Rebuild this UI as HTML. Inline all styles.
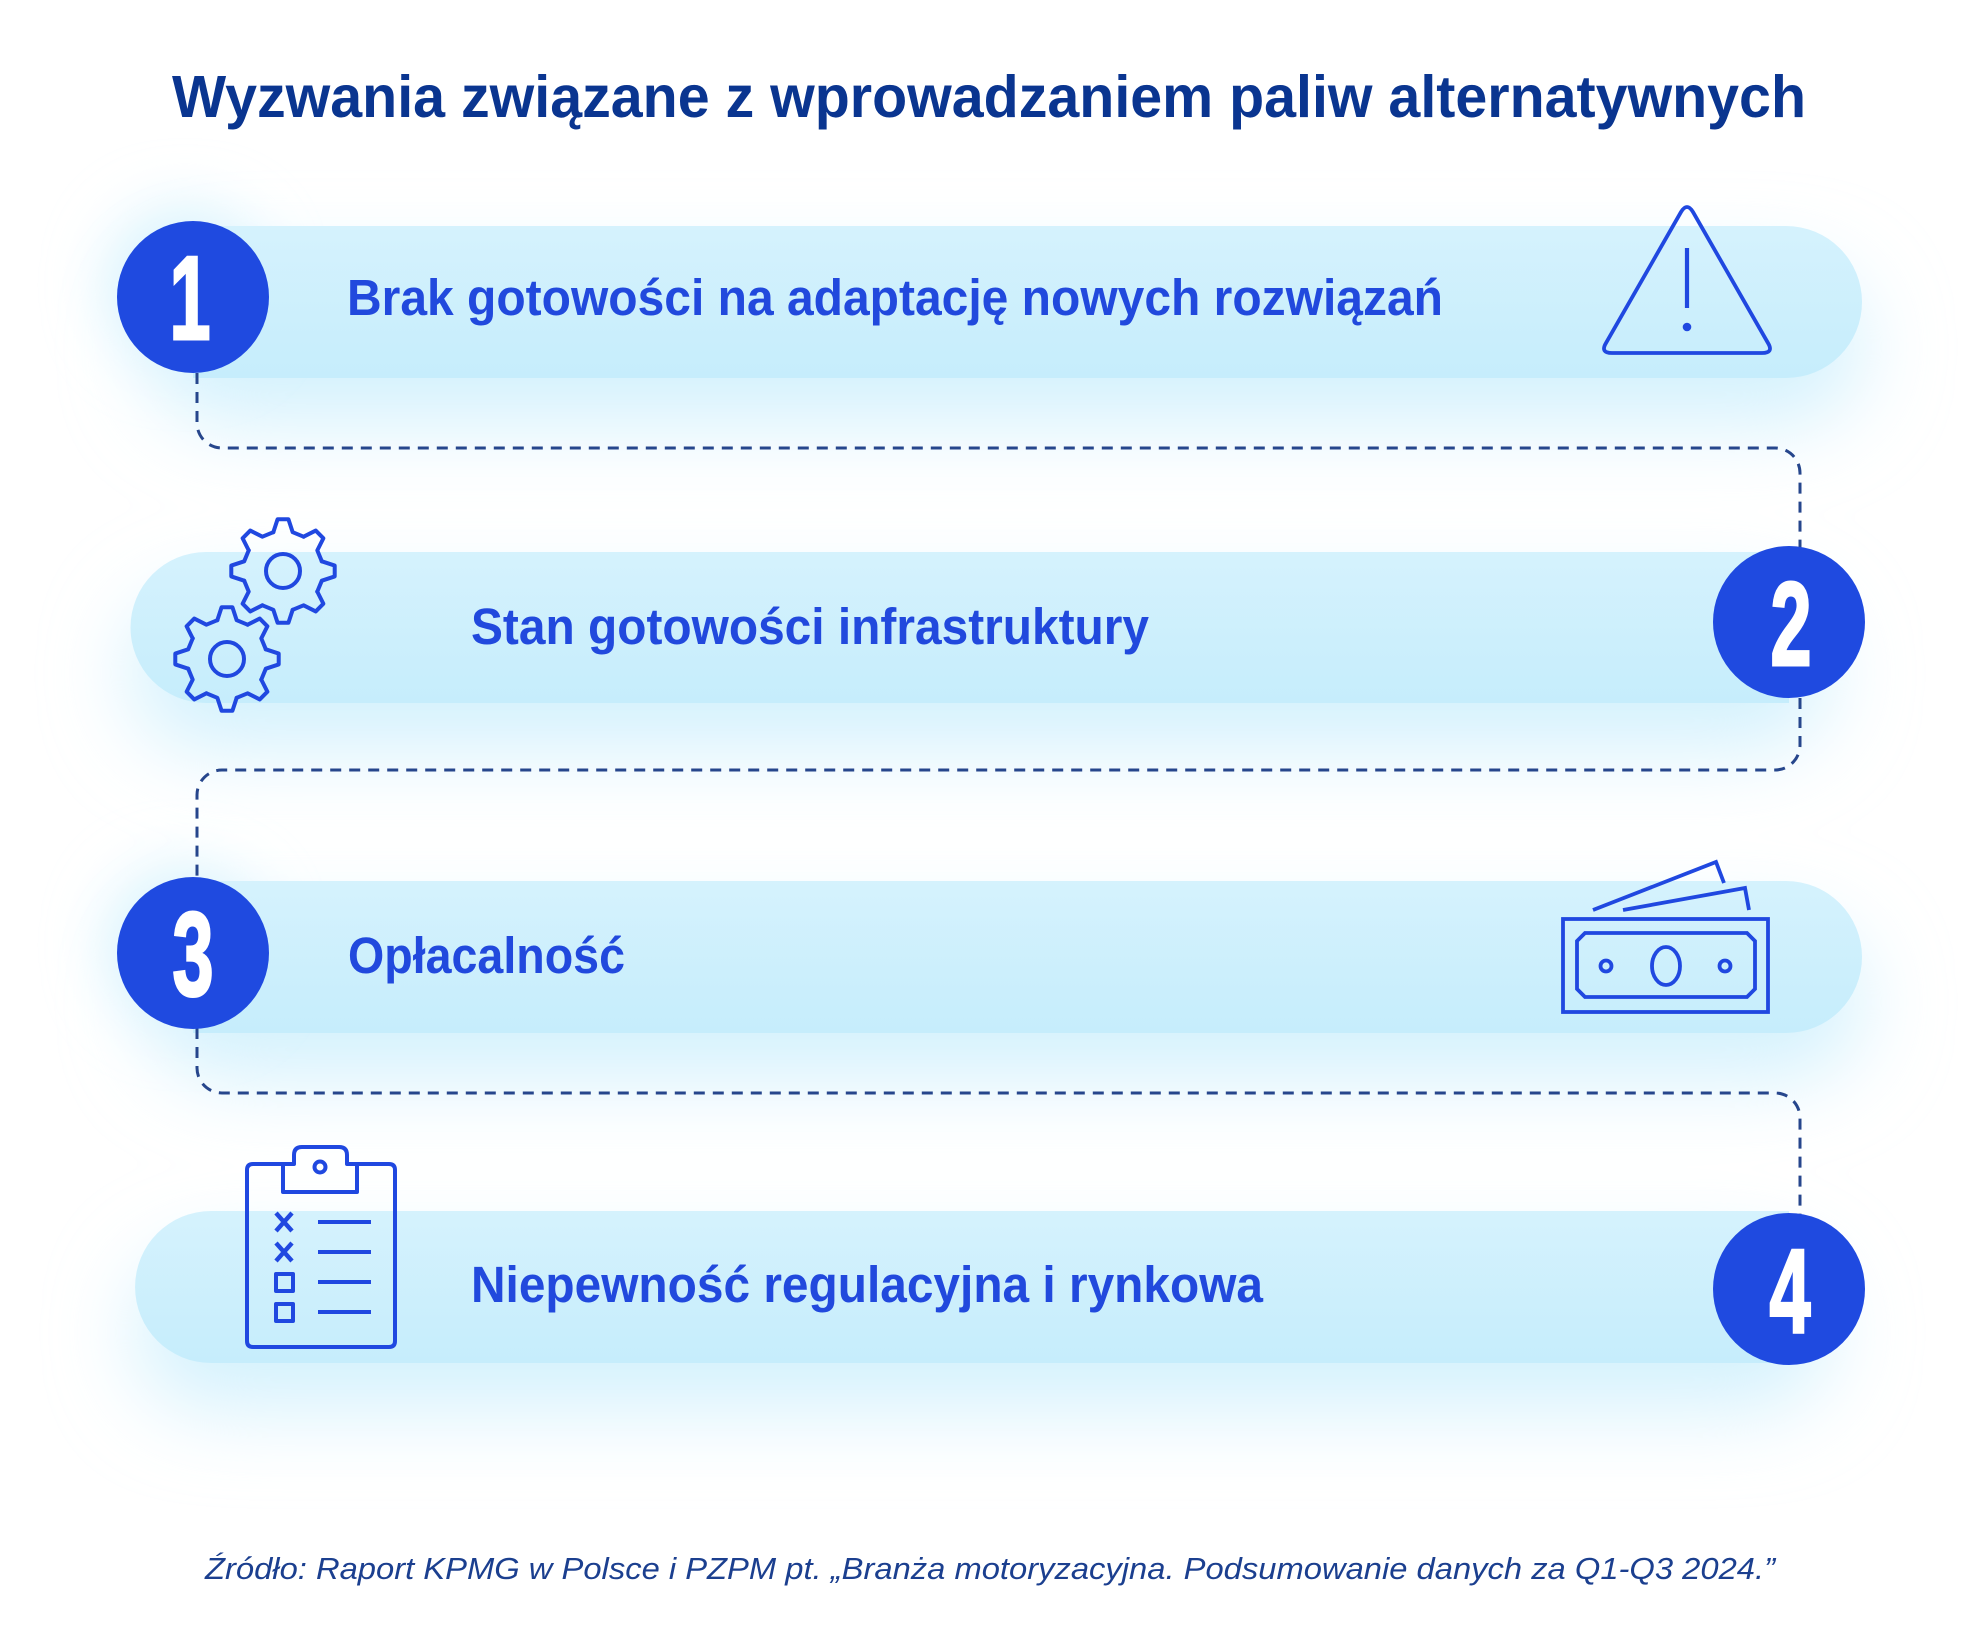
<!DOCTYPE html>
<html>
<head>
<meta charset="utf-8">
<style>
  html, body { margin: 0; padding: 0; background: #ffffff; }
  body { width: 1980px; height: 1646px; overflow: hidden; }
  svg { display: block; }
</style>
</head>
<body>
<svg width="1980" height="1646" viewBox="0 0 1980 1646" xmlns="http://www.w3.org/2000/svg">
  <defs>
    <filter id="glow" x="-20%" y="-80%" width="140%" height="260%">
      <feGaussianBlur stdDeviation="42"/>
    </filter>
    <filter id="glow2" x="-100%" y="-100%" width="300%" height="300%">
      <feGaussianBlur stdDeviation="30"/>
    </filter>
    <linearGradient id="barg" x1="0" y1="0" x2="0" y2="1">
      <stop offset="0" stop-color="#d5f2fd"/>
      <stop offset="1" stop-color="#c6edfc"/>
    </linearGradient>
    <g id="gearseg">
      <path d="M-9.68,-38.81 L-5.43,-51.71 L5.43,-51.71 L9.68,-38.81 L20.6,-34.29" fill="none"/>
    </g>
  </defs>

  <rect x="0" y="0" width="1980" height="1646" fill="#ffffff"/>

  <!-- glows -->
  <g fill="#d3f1fd" filter="url(#glow)">
    <rect x="150" y="271" width="1712" height="152" rx="76"/>
    <rect x="130" y="597" width="1700" height="152" rx="76"/>
    <rect x="150" y="926" width="1712" height="152" rx="76"/>
    <rect x="135" y="1256" width="1695" height="152" rx="76"/>
  </g>
  <g fill="#d8f3fd" filter="url(#glow2)">
    <circle cx="185" cy="285" r="78"/>
    <circle cx="185" cy="945" r="78"/>
  </g>

  <!-- bars -->
  <path d="M193,226 H1786 A76,76 0 0 1 1786,378 H193 Z" fill="url(#barg)"/>
  <path d="M1789,552 H206 A75.5,75.5 0 0 0 206,703 H1789 Z" fill="url(#barg)"/>
  <path d="M193,881 H1786 A76,76 0 0 1 1786,1033 H193 Z" fill="url(#barg)"/>
  <path d="M1789,1211 H211 A76,76 0 0 0 211,1363 H1789 Z" fill="url(#barg)"/>

  <!-- dashed connectors -->
  <g fill="none" stroke="#26468c" stroke-width="3" stroke-dasharray="11 8">
    <path d="M197,373 V423 A25,25 0 0 0 222,448 H1775 A25,25 0 0 1 1800,473 V550"/>
    <path d="M1800,698 V745 A25,25 0 0 1 1775,770 H222 A25,25 0 0 0 197,795 V880"/>
    <path d="M197,1028 V1068 A25,25 0 0 0 222,1093 H1775 A25,25 0 0 1 1800,1118 V1215"/>
  </g>

  <!-- circles -->
  <g fill="#1f4ae0">
    <circle cx="193" cy="297" r="76"/>
    <circle cx="1789" cy="622" r="76"/>
    <circle cx="193" cy="953" r="76"/>
    <circle cx="1789" cy="1289" r="76"/>
  </g>
  <g fill="#ffffff" stroke="#ffffff" stroke-width="3" stroke-linejoin="miter" font-family="'Liberation Sans', Arial, sans-serif" font-weight="bold" font-size="119" text-anchor="middle">
    <text transform="translate(190,339) scale(0.62,1)">1</text>
    <text transform="translate(1791,665) scale(0.62,1)">2</text>
    <text transform="translate(193,995) scale(0.62,1)">3</text>
    <text transform="translate(1790,1332) scale(0.62,1)">4</text>
  </g>

  <!-- title -->
  <text x="172" y="117" font-family="'Liberation Sans', Arial, sans-serif" font-weight="bold" font-size="59" fill="#0a3590" textLength="1634" lengthAdjust="spacingAndGlyphs">Wyzwania związane z wprowadzaniem paliw alternatywnych</text>

  <!-- row texts -->
  <g font-family="'Liberation Sans', Arial, sans-serif" font-weight="bold" font-size="51" fill="#2149dd">
    <text x="347" y="315" textLength="1096" lengthAdjust="spacingAndGlyphs">Brak gotowości na adaptację nowych rozwiązań</text>
    <text x="471" y="644" textLength="678" lengthAdjust="spacingAndGlyphs">Stan gotowości infrastruktury</text>
    <text x="348" y="973" textLength="277" lengthAdjust="spacingAndGlyphs">Opłacalność</text>
    <text x="471" y="1302" textLength="792" lengthAdjust="spacingAndGlyphs">Niepewność regulacyjna i rynkowa</text>
  </g>

  <!-- icons -->
  <g fill="none" stroke="#2048e0" stroke-width="3.8" stroke-linejoin="round" stroke-linecap="round">
    <!-- warning triangle -->
    <path d="M1681,212 Q1687,202 1693,212 L1768,343 Q1774,353 1762,353 L1612,353 Q1600,353 1606,343 Z"/>
    <line x1="1687" y1="248" x2="1687" y2="308" stroke-width="4.2" stroke-linecap="butt"/>
  </g>
  <circle cx="1687" cy="327" r="4.3" fill="#2048e0"/>

  <!-- gears -->
  <g stroke="#2048e0" stroke-width="4" stroke-linejoin="round" stroke-linecap="round" fill="none">
    <g transform="translate(283,571)">
      <use href="#gearseg"/>
      <use href="#gearseg" transform="rotate(45)"/>
      <use href="#gearseg" transform="rotate(90)"/>
      <use href="#gearseg" transform="rotate(135)"/>
      <use href="#gearseg" transform="rotate(180)"/>
      <use href="#gearseg" transform="rotate(225)"/>
      <use href="#gearseg" transform="rotate(270)"/>
      <use href="#gearseg" transform="rotate(315)"/>
      <circle cx="0" cy="0" r="17"/>
    </g>
    <g transform="translate(227,659)">
      <use href="#gearseg"/>
      <use href="#gearseg" transform="rotate(45)"/>
      <use href="#gearseg" transform="rotate(90)"/>
      <use href="#gearseg" transform="rotate(135)"/>
      <use href="#gearseg" transform="rotate(180)"/>
      <use href="#gearseg" transform="rotate(225)"/>
      <use href="#gearseg" transform="rotate(270)"/>
      <use href="#gearseg" transform="rotate(315)"/>
      <circle cx="0" cy="0" r="17"/>
    </g>
  </g>

  <!-- money -->
  <g fill="none" stroke="#2048e0" stroke-width="3.8" stroke-linejoin="miter">
    <polyline points="1593,910 1716,862 1724,883"/>
    <polyline points="1623,910 1745,888 1749,910"/>
    <rect x="1563" y="919" width="205" height="93"/>
    <polygon points="1585,933 1747,933 1755,941 1755,989 1747,997 1585,997 1577,989 1577,941"/>
    <ellipse cx="1666" cy="966" rx="14" ry="19"/>
    <circle cx="1606" cy="966" r="5.5"/>
    <circle cx="1725" cy="966" r="5.5"/>
  </g>

  <!-- clipboard -->
  <g fill="none" stroke="#2048e0" stroke-width="4" stroke-linejoin="round">
    <path d="M283,1164 H253 Q247,1164 247,1170 V1341 Q247,1347 253,1347 H389 Q395,1347 395,1341 V1170 Q395,1164 389,1164 H357"/>
    <path d="M283,1192 L283,1164 L294,1164 L294,1155 Q294,1147 302,1147 L339,1147 Q347,1147 347,1155 L347,1164 L357,1164 L357,1192 Z"/>
    <circle cx="320" cy="1167" r="5.5"/>
    <path d="M276,1213 L292,1231 M292,1213 L276,1231" stroke-width="4.4"/>
    <path d="M276,1243 L292,1261 M292,1243 L276,1261" stroke-width="4.4"/>
    <rect x="276" y="1274" width="17" height="17"/>
    <rect x="276" y="1304" width="17" height="17"/>
    <path d="M318,1222 H371 M318,1252 H371 M318,1282 H371 M318,1312 H371"/>
  </g>

  <!-- source -->
  <text x="205" y="1579" font-family="'Liberation Sans', Arial, sans-serif" font-style="italic" font-size="31" fill="#1b3f8f" textLength="1570" lengthAdjust="spacingAndGlyphs">Źródło: Raport KPMG w Polsce i PZPM pt. „Branża motoryzacyjna. Podsumowanie danych za Q1-Q3 2024.”</text>
</svg>
</body>
</html>
